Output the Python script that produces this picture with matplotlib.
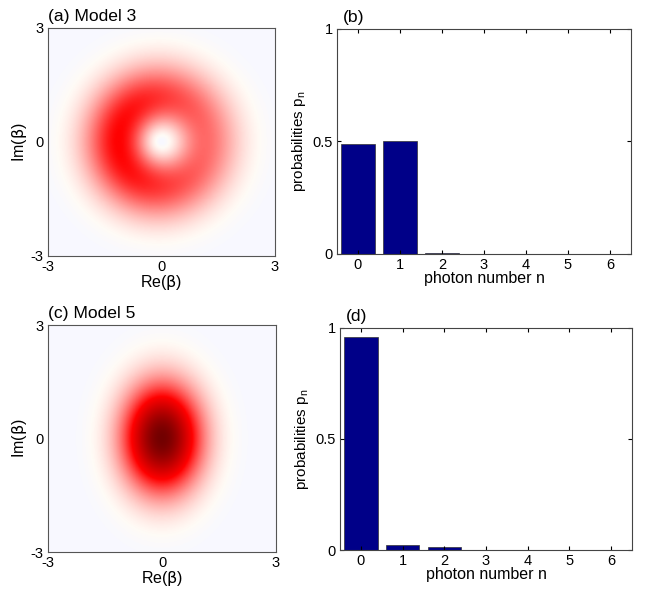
#!/usr/bin/env python3
"""Phase-space maps and photon-number distributions for two models."""

import matplotlib
matplotlib.use('Agg')
from matplotlib import pyplot as plt
from matplotlib.colors import LinearSegmentedColormap
import numpy as np

plt.rcParams['font.family'] = ['Liberation Sans', 'DejaVu Sans']
plt.rcParams['font.size'] = 10.5
plt.rcParams['axes.unicode_minus'] = False

# photon number distributions
PHOTON_N = [0, 1, 2, 3, 4, 5, 6]
PROB_MODEL3 = [0.49, 0.50, 0.006, 0.0, 0.0, 0.0, 0.0]
PROB_MODEL5 = [0.96, 0.024, 0.012, 0.0, 0.0, 0.0, 0.0]

# shape of the phase-space maps
RING_SCALE = 1.3         # model 3: ring ~ r^2 exp(-r^2 / scale)
RING_TILT = 0.25         # ring is stronger on the Re < 0 side
RING_PEAK_LEVEL = 0.5    # ring maximum sits at pure red
SIGMA_RE = 0.68          # model 5: gaussian widths
SIGMA_IM = 0.93
BLOB_PEAK_LEVEL = 1.0

EXTENT = 3
GRID = np.linspace(-EXTENT, EXTENT, 301)

CMAP = LinearSegmentedColormap.from_list('white_red', [
    (0.00, (0.975, 0.975, 1.0)),
    (0.02, (1.0, 0.985, 0.965)),
    (0.50, (1.0, 0.0, 0.0)),
    (1.00, (0.45, 0.0, 0.0)),
])


def model3_map():
    re, im = np.meshgrid(GRID, GRID)
    r2 = re ** 2 + im ** 2
    r = np.sqrt(r2) + 1e-12
    q = r2 * np.exp(-r2 / RING_SCALE) * (1 - RING_TILT * re / r)
    return RING_PEAK_LEVEL * q / q.max()


def model5_map():
    re, im = np.meshgrid(GRID, GRID)
    q = np.exp(-re ** 2 / (2 * SIGMA_RE ** 2) - im ** 2 / (2 * SIGMA_IM ** 2))
    return BLOB_PEAK_LEVEL * q / q.max()


def draw_map(ax, data, title):
    ax.imshow(data, cmap=CMAP, vmin=0, vmax=1, origin='lower',
              extent=[-EXTENT, EXTENT, -EXTENT, EXTENT],
              interpolation='bilinear', aspect='auto')
    ax.set_xticks([-3, 0, 3])
    ax.set_yticks([-3, 0, 3])
    ax.tick_params(length=0, pad=3)
    ax.set_xlabel(r'Re($\mathrm{\beta}$)', fontsize=11.5, labelpad=-1)
    ax.set_ylabel(r'Im($\mathrm{\beta}$)', fontsize=11.5, labelpad=1)
    ax.set_title(title, loc='left', pad=5)
    for spine in ax.spines.values():
        spine.set_color('#555555')


def draw_bars(ax, probs, title):
    ax.bar(PHOTON_N, probs, width=0.8, color='#000088',
           edgecolor='#333333', linewidth=0.5)
    ax.set_xlim(-0.5, 6.5)
    ax.set_ylim(0, 1)
    ax.set_xticks(PHOTON_N)
    ax.set_yticks([0, 0.5, 1])
    ax.set_yticklabels(['0', '0.5', '1'])
    ax.tick_params(direction='in', top=True, right=True, length=3, pad=3)
    ax.set_xlabel('photon number n', fontsize=11.5, labelpad=-1)
    ax.set_ylabel(r'probabilities p$_\mathregular{n}$', fontsize=11,
                  labelpad=3)
    ax.set_title(title, loc='left', pad=5, x=0.02)
    for spine in ax.spines.values():
        spine.set_color('#444444')


def main():
    fig = plt.figure(figsize=(6.57, 5.93), dpi=100)
    ax_a = fig.add_axes([0.0731, 0.5683, 0.3455, 0.3845])
    ax_b = fig.add_axes([0.5129, 0.5717, 0.4475, 0.3794])
    ax_c = fig.add_axes([0.0731, 0.0691, 0.3470, 0.3828])
    ax_d = fig.add_axes([0.5175, 0.0725, 0.4444, 0.3744])

    draw_map(ax_a, model3_map(), '(a) Model 3')
    draw_bars(ax_b, PROB_MODEL3, '(b)')
    draw_map(ax_c, model5_map(), '(c) Model 5')
    draw_bars(ax_d, PROB_MODEL5, '(d)')

    fig.savefig('out.png', dpi=100)


if __name__ == '__main__':
    main()
